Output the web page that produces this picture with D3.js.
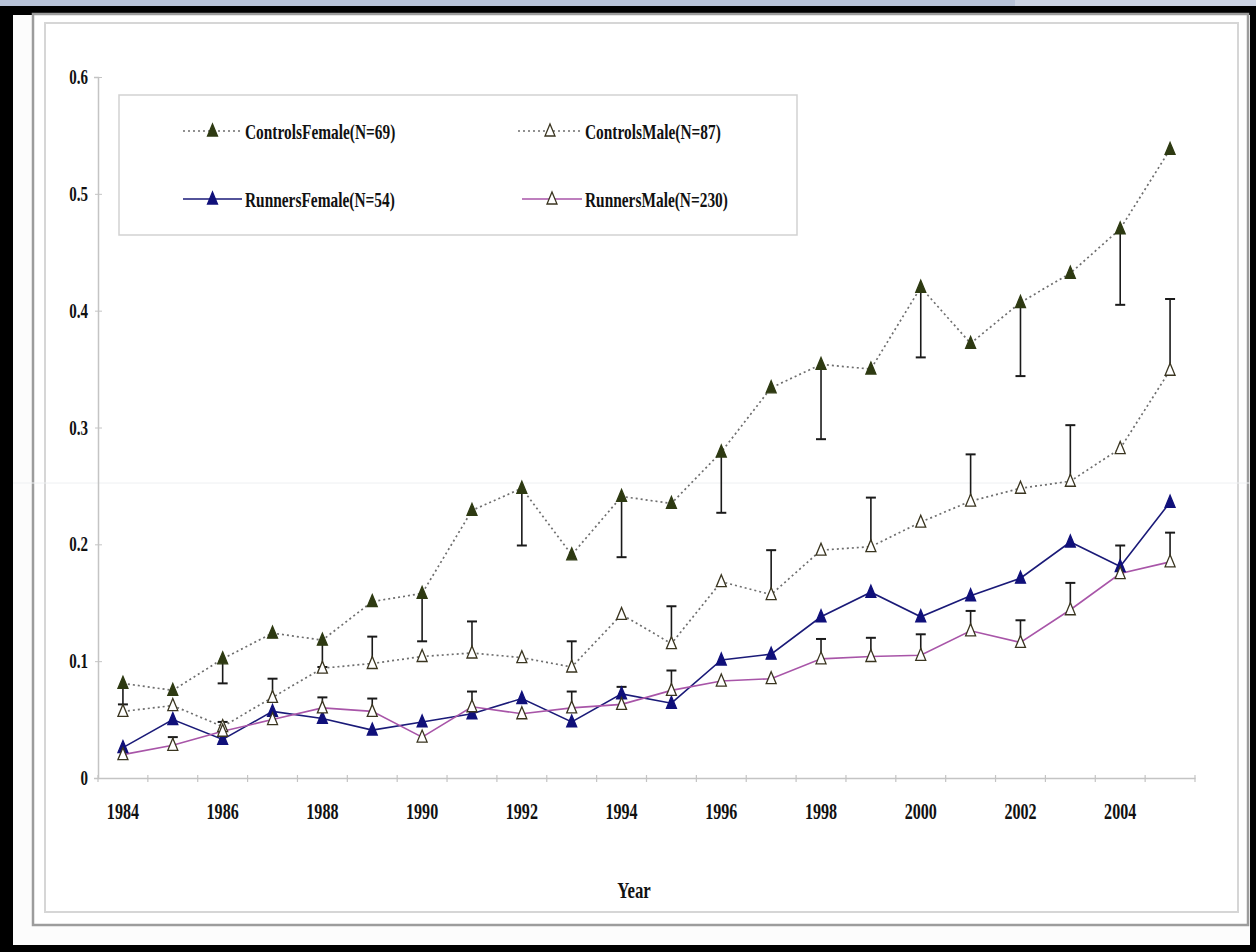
<!DOCTYPE html>
<html>
<head>
<meta charset="utf-8">
<script src="https://cdn.jsdelivr.net/npm/d3@7/dist/d3.min.js"></script>
<style>
  body { margin: 0; background: #ffffff; }
  svg { display: block; }
  text { font-family: "Liberation Serif", "Times New Roman", serif; font-weight: bold; fill: #111; }
</style>
</head>
<body>
<div id="chart"></div>
<script>
let years = d3.range(1984, 2006);
let yTicks = [0, 0.1, 0.2, 0.3, 0.4, 0.5, 0.6];
let yearLabels = [1984, 1986, 1988, 1990, 1992, 1994, 1996, 1998, 2000, 2002, 2004];

let controlsFemale = [0.081, 0.075, 0.102, 0.124, 0.118, 0.151, 0.158, 0.229, 0.248, 0.191, 0.241,
                      0.235, 0.279, 0.334, 0.354, 0.350, 0.420, 0.372, 0.407, 0.432, 0.470, 0.538];
let controlsFemaleLow = [0.063, null, 0.081, null, 0.095, null, 0.117, null, 0.199, null, 0.189,
                         null, 0.227, null, 0.290, null, 0.360, null, 0.344, null, 0.405, null];

let controlsMale = [0.057, 0.062, 0.044, 0.069, 0.094, 0.098, 0.104, 0.107, 0.103, 0.095, 0.140,
                    0.115, 0.168, 0.157, 0.195, 0.198, 0.219, 0.237, 0.248, 0.254, 0.282, 0.349];
let controlsMaleHigh = [null, null, null, 0.085, null, 0.121, null, 0.134, null, 0.117, null,
                        0.147, null, 0.195, null, 0.240, null, 0.277, null, 0.302, null, 0.410];

let runnersFemale = [0.026, 0.050, 0.033, 0.057, 0.051, 0.041, 0.048, 0.055, 0.068, 0.048, 0.072,
                     0.064, 0.101, 0.106, 0.138, 0.159, 0.138, 0.156, 0.171, 0.202, 0.181, 0.236];

let runnersMale = [0.020, 0.028, 0.040, 0.050, 0.060, 0.057, 0.035, 0.061, 0.055, 0.060, 0.063,
                   0.075, 0.083, 0.085, 0.102, 0.104, 0.105, 0.126, 0.116, 0.144, 0.175, 0.185];
let runnersMaleHigh = [null, 0.035, 0.048, null, 0.069, 0.068, null, 0.074, null, 0.074, 0.078,
                       0.092, null, null, 0.119, 0.120, 0.123, 0.143, 0.135, 0.167, 0.199, 0.210];

let series = [
    { name: "ControlsFemale(N=69)", values: controlsFemale, err: controlsFemaleLow,
      line: "#6e6e6e", dash: "2,3", lw: 1.7, fill: "#2e3a12", stroke: "#2e3a12" },
    { name: "ControlsMale(N=87)", values: controlsMale, err: controlsMaleHigh,
      line: "#6e6e6e", dash: "2,3", lw: 1.7, fill: "#ffffff", stroke: "#3a3520" },
    { name: "RunnersFemale(N=54)", values: runnersFemale, err: null,
      line: "#1a1a78", dash: null, lw: 1.6, fill: "#10107a", stroke: "#10107a" },
    { name: "RunnersMale(N=230)", values: runnersMale, err: runnersMaleHigh,
      line: "#a855a8", dash: null, lw: 1.6, fill: "#ffffff", stroke: "#3a3520" }
];

let W = 1256, H = 952;
let svg = d3.select("#chart").append("svg").attr("width", W).attr("height", H);

// slide frame
svg.append("rect").attr("width", W).attr("height", H).attr("fill", "#000");
svg.append("rect").attr("width", W).attr("height", 6).attr("fill", "#b8c3d8");
svg.append("rect").attr("x", 1015).attr("width", W - 1015).attr("height", 6).attr("fill", "#ccd3e2");
svg.append("rect").attr("x", 13).attr("y", 15).attr("width", 1237).attr("height", 930).attr("fill", "#fcfcfc");
svg.append("rect").attr("x", 33).attr("y", 14).attr("width", 1215).attr("height", 911)
    .attr("fill", "#ffffff").attr("stroke", "#9c9c9c").attr("stroke-width", 2.5);
svg.append("rect").attr("x", 45).attr("y", 23).attr("width", 1193).attr("height", 889)
    .attr("fill", "#ffffff").attr("stroke", "#d6d6d6").attr("stroke-width", 2);
svg.append("line").attr("x1", 13).attr("x2", 1250).attr("y1", 483).attr("y2", 483)
    .attr("stroke", "#eef0f2").attr("stroke-width", 1);

let x = d3.scaleBand().domain(years).range([98, 1195]);
let y = d3.scaleLinear().domain([0, 0.6]).range([778, 77]);
let cx = d => x(d) + x.bandwidth() / 2;

function label(g, tx, ty, str, size, sx, anchor) {
    return g.append("text")
        .attr("transform", `translate(${tx},${ty}) scale(${sx},1)`)
        .attr("text-anchor", anchor || "start")
        .style("font-size", size + "px")
        .text(str);
}

// axes
let yAxis = svg.append("g")
    .attr("transform", `translate(${x.range()[0]},0)`)
    .call(d3.axisLeft(y).tickValues(yTicks).tickSize(4).tickFormat(""));
yAxis.selectAll("line").attr("x2", 4).attr("x1", -3).attr("stroke", "#c4c4c4");
yAxis.select(".domain").attr("stroke", "#c4c4c4").attr("stroke-width", 1.5);

let xAxis = svg.append("g")
    .attr("transform", `translate(0,${y(0)})`)
    .call(d3.axisBottom(x).tickSize(0).tickFormat(""));
xAxis.select(".domain").attr("stroke", "#c4c4c4").attr("stroke-width", 1.5);
xAxis.selectAll(".tick").remove();
let bounds = years.map(d => x(d)).concat([x.range()[1]]);
svg.append("g").selectAll("line").data(bounds).enter().append("line")
    .attr("x1", d => d).attr("x2", d => d)
    .attr("y1", y(0) - 3).attr("y2", y(0) + 4)
    .attr("stroke", "#c4c4c4").attr("stroke-width", 1.2);

yTicks.forEach(t => label(svg, 88, y(t) + 7, t === 0 ? "0" : String(t), 20, 0.75, "end"));
yearLabels.forEach(yr => label(svg, cx(yr), 819, String(yr), 23, 0.7, "middle"));
label(svg, 634, 898, "Year", 24, 0.7, "middle");

// lines
let lineGen = (vals) => d3.line()
    .x((d, i) => cx(years[i]))
    .y(d => y(d))(vals);

series.forEach(s => {
    svg.append("path")
        .attr("d", lineGen(s.values))
        .attr("fill", "none")
        .attr("stroke", s.line)
        .attr("stroke-width", s.lw)
        .attr("stroke-dasharray", s.dash);
});

// error bars
series.forEach(s => {
    if (!s.err) return;
    let g = svg.append("g").attr("stroke", "#1a1a1a").attr("stroke-width", 1.6);
    s.err.forEach((e, i) => {
        if (e === null) return;
        let px = cx(years[i]);
        g.append("line").attr("x1", px).attr("x2", px).attr("y1", y(s.values[i])).attr("y2", y(e));
        g.append("line").attr("x1", px - 5).attr("x2", px + 5).attr("y1", y(e)).attr("y2", y(e)).attr("stroke-width", 2);
    });
});

// markers
let tri = "M0,-7L5,5L-5,5Z";
series.forEach(s => {
    svg.append("g").selectAll("path").data(s.values).enter().append("path")
        .attr("d", tri)
        .attr("transform", (d, i) => `translate(${cx(years[i])},${y(d)})`)
        .attr("fill", s.fill)
        .attr("stroke", s.stroke)
        .attr("stroke-width", 1.3);
});

// legend
let leg = svg.append("g");
leg.append("rect").attr("x", 119).attr("y", 95).attr("width", 678).attr("height", 140)
    .attr("fill", "#ffffff").attr("stroke", "#d2d2d2").attr("stroke-width", 1.5);
let legPos = [[183, 131], [518, 131], [183, 199], [522, 199]];
series.forEach((s, i) => {
    let [lx, ly] = legPos[i];
    let tx = i % 2 === 0 ? 245 : 585;
    leg.append("line").attr("x1", lx).attr("x2", tx - 3).attr("y1", ly).attr("y2", ly)
        .attr("stroke", s.line).attr("stroke-width", s.lw).attr("stroke-dasharray", s.dash);
    leg.append("path").attr("d", tri).attr("transform", `translate(${(lx + tx - 3) / 2},${ly})`)
        .attr("fill", s.fill).attr("stroke", s.stroke).attr("stroke-width", 1.3);
    label(leg, tx, ly + 8, s.name, 22, 0.7, "start");
});
</script>
</body>
</html>
